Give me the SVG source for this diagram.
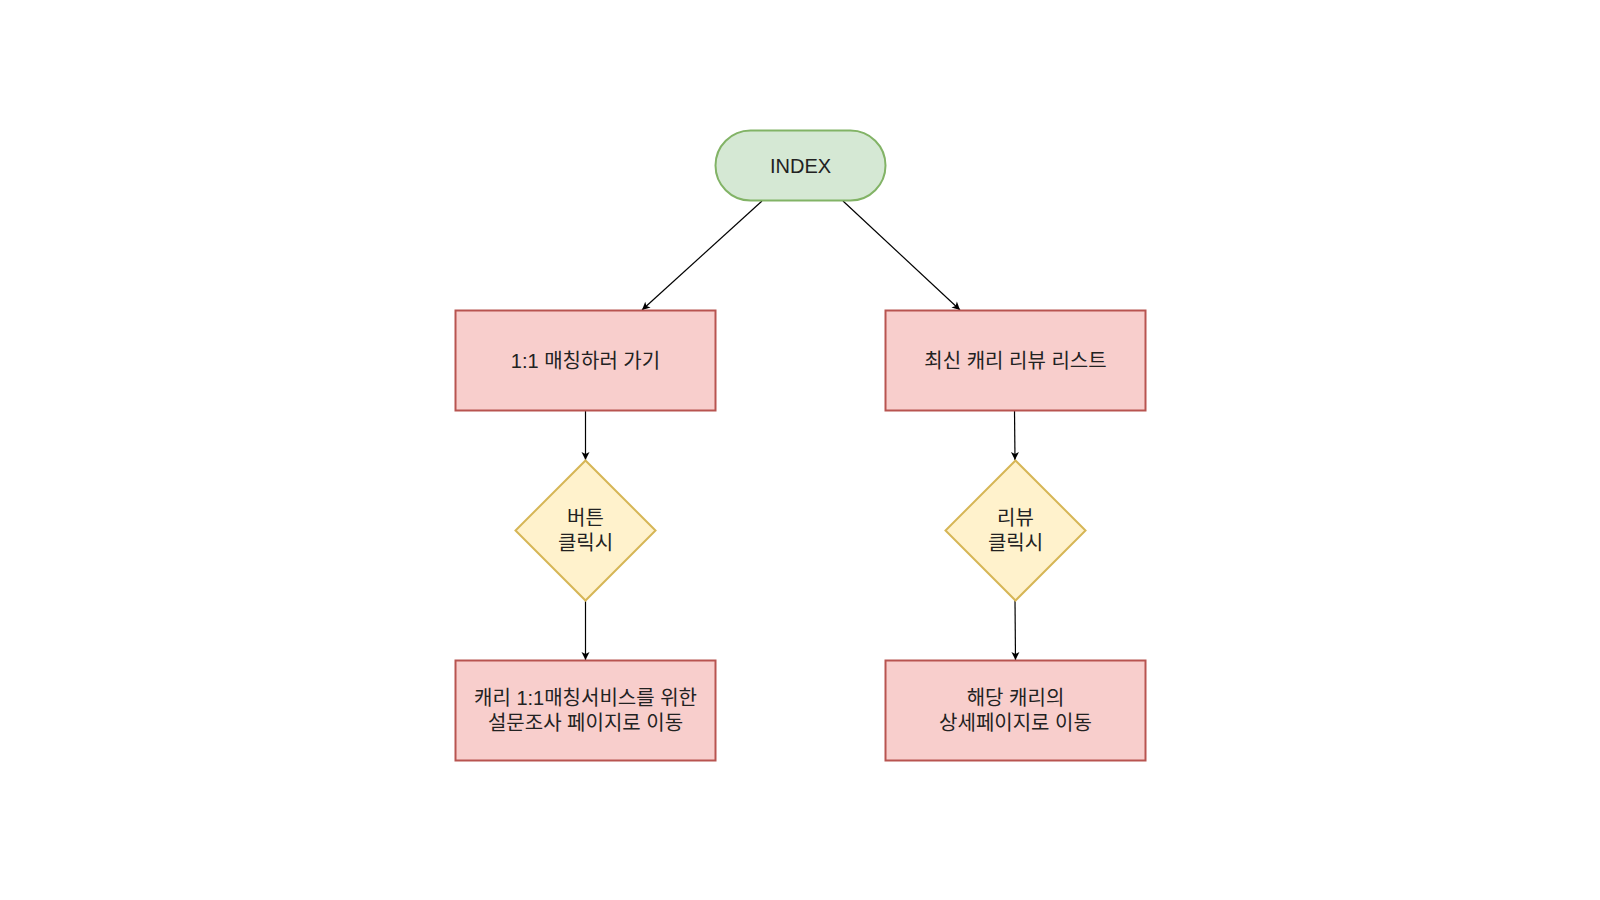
<svg xmlns="http://www.w3.org/2000/svg" width="1600" height="900" viewBox="0 0 1600 900">
<defs>
<style>
.t{font-family:"Liberation Sans","Noto Sans CJK KR",sans-serif;font-size:20px;fill:#222;text-anchor:middle;dominant-baseline:central}
.red{fill:#f8cecc;stroke:#b85450;stroke-width:2}
.yel{fill:#fff2cc;stroke:#d6b656;stroke-width:2}
.grn{fill:#d5e8d4;stroke:#82b366;stroke-width:2}
.c{stroke:#000;stroke-width:1.2;fill:none;marker-end:url(#ah)}
</style>
<marker id="ah" markerWidth="10" markerHeight="10" viewBox="0 0 10 10" refX="9" refY="5" orient="auto" markerUnits="userSpaceOnUse">
<path d="M1,1 L9,5 L1,9 L3,5 Z" fill="#000"/>
</marker>
</defs>
<rect width="1600" height="900" fill="#fff"/>
<g id="connectors">
<line class="c" x1="762" y1="201" x2="642" y2="310"/>
<line class="c" x1="843" y1="201" x2="960" y2="310"/>
<line class="c" x1="585.5" y1="411" x2="585.5" y2="460"/>
<line class="c" x1="1014.5" y1="411" x2="1015" y2="460"/>
<line class="c" x1="585.5" y1="600" x2="585.5" y2="660"/>
<line class="c" x1="1015" y1="600" x2="1015.5" y2="660"/>
</g>
<g id="index">
<rect class="grn" x="715.5" y="130.5" width="170" height="70" rx="35"/>
<text class="t" x="800.5" y="165.5">INDEX</text>
</g>
<g id="match">
<rect class="red" x="455.5" y="310.5" width="260" height="100"/>
<text class="t" x="585.5" y="360.5">1:1 매칭하러 가기</text>
</g>
<g id="reviews">
<rect class="red" x="885.5" y="310.5" width="260" height="100"/>
<text class="t" x="1015.5" y="360.5">최신 캐리 리뷰 리스트</text>
</g>
<g id="btnclick">
<polygon class="yel" points="585.5,460.5 655.5,530.5 585.5,600.5 515.5,530.5"/>
<text class="t" x="585.5" y="518">버튼</text>
<text class="t" x="585.5" y="543">클릭시</text>
</g>
<g id="reviewclick">
<polygon class="yel" points="1015.5,460.5 1085.5,530.5 1015.5,600.5 945.5,530.5"/>
<text class="t" x="1015.5" y="518">리뷰</text>
<text class="t" x="1015.5" y="543">클릭시</text>
</g>
<g id="survey">
<rect class="red" x="455.5" y="660.5" width="260" height="100"/>
<text class="t" x="585.5" y="698">캐리 1:1매칭서비스를 위한</text>
<text class="t" x="585.5" y="723">설문조사 페이지로 이동</text>
</g>
<g id="detail">
<rect class="red" x="885.5" y="660.5" width="260" height="100"/>
<text class="t" x="1015.5" y="698">해당 캐리의</text>
<text class="t" x="1015.5" y="723">상세페이지로 이동</text>
</g>
</svg>
